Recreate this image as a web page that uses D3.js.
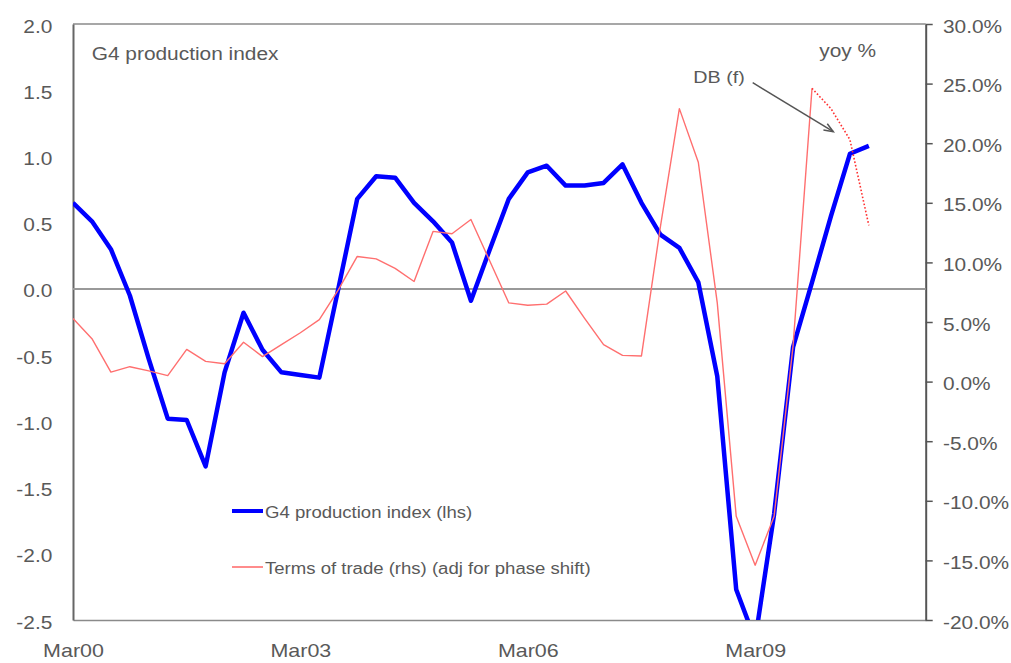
<!DOCTYPE html>
<html>
<head>
<meta charset="utf-8">
<script src="https://cdn.jsdelivr.net/npm/d3@7"></script>
<style>
  html, body { margin: 0; padding: 0; background: #fff; }
  svg { display: block; }
  text { font-family: "Liberation Sans", Arial, sans-serif; fill: #595959; }
</style>
</head>
<body>
<svg id="chart" width="1011" height="663"></svg>
<script>
// Quarterly categories on the x axis (last three quarters are empty space)
const quarters = [
  "Mar00","Jun00","Sep00","Dec00","Mar01","Jun01","Sep01","Dec01",
  "Mar02","Jun02","Sep02","Dec02","Mar03","Jun03","Sep03","Dec03",
  "Mar04","Jun04","Sep04","Dec04","Mar05","Jun05","Sep05","Dec05",
  "Mar06","Jun06","Sep06","Dec06","Mar07","Jun07","Sep07","Dec07",
  "Mar08","Jun08","Sep08","Dec08","Mar09","Jun09","Sep09","Dec09",
  "Mar10","Jun10","Sep10","Dec10","Mar11","Jun11"
];
const xTickLabels = ["Mar00", "Mar03", "Mar06", "Mar09"];

// G4 production index (lhs)
const productionIndex = [
  0.65, 0.51, 0.30, -0.05, -0.53, -0.98, -0.99, -1.34,
  -0.63, -0.18, -0.46, -0.63, -0.65, -0.67, 0.00, 0.68,
  0.85, 0.84, 0.65, 0.51, 0.35, -0.09, 0.30, 0.68,
  0.88, 0.93, 0.78, 0.78, 0.80, 0.94, 0.65, 0.41,
  0.31, 0.05, -0.66, -2.27, -2.65, -1.70, -0.44, 0.05,
  0.55, 1.02, 1.08
];

// Terms of trade, yoy % (rhs), adjusted for phase shift; DB forecast from Dec09
const termsOfTrade = [
  5.3, 3.6, 0.8, 1.25, 0.9, 0.5, 2.7, 1.7,
  1.5, 3.3, 2.1, 3.1, 4.1, 5.2, 7.7, 10.5,
  10.3, 9.5, 8.4, 12.6, 12.4, 13.6, 10.1, 6.6,
  6.4, 6.5, 7.6, 5.3, 3.1, 2.2, 2.15, 13.0,
  22.9, 18.4, 6.6, -11.3, -15.4, -11.3, 3.0, 24.6,
  22.9, 20.3, 13.1
];
const forecastFrom = "Dec09";

const leftTicks = [2.0, 1.5, 1.0, 0.5, 0.0, -0.5, -1.0, -1.5, -2.0, -2.5];
const rightTicks = [30, 25, 20, 15, 10, 5, 0, -5, -10, -15, -20];

const STRETCH = 1.16;  // wide glyph rendering of the original font
const plot = { left: 73, right: 925.7, top: 24, bottom: 620 };

const svg = d3.select("#chart");

const x = d3.scalePoint().domain(quarters).range([plot.left, plot.right]);
const yL = d3.scaleLinear().domain([-2.5, 2.0]).range([plot.bottom, plot.top]);
const yR = d3.scaleLinear().domain([-20, 30]).range([plot.bottom, plot.top]);

function widen(sel, s) {
  sel.each(function () {
    const t = d3.select(this);
    const x0 = +t.attr("x") || 0;
    t.attr("x", x0 / s).attr("transform", `scale(${s},1)`);
  });
}

function label(txt, px, py, size, anchor) {
  const g = svg.append("g").attr("transform", `translate(${px},${py})`);
  g.append("text")
    .attr("text-anchor", anchor || "start")
    .attr("font-size", size)
    .attr("transform", `scale(${STRETCH},1)`)
    .text(txt);
  return g;
}

// Frame: top and bottom lines
svg.append("line")
  .attr("x1", plot.left).attr("x2", plot.right)
  .attr("y1", plot.top).attr("y2", plot.top)
  .attr("stroke", "#8a8a8a").attr("stroke-width", 1.5);

// Bottom axis
const gx = svg.append("g")
  .attr("transform", `translate(0,${plot.bottom})`)
  .call(d3.axisBottom(x).tickValues(xTickLabels).tickSize(0).tickSizeOuter(0).tickPadding(24));
gx.select(".domain").attr("stroke", "#8a8a8a").attr("stroke-width", 1.5);
gx.selectAll("text").attr("font-size", 18.5).attr("font-family", null).attr("fill", null);
widen(gx.selectAll("text"), STRETCH);

// Left axis
const gl = svg.append("g")
  .attr("transform", `translate(${plot.left},0)`)
  .call(d3.axisLeft(yL).tickValues(leftTicks).tickSize(0).tickSizeOuter(0).tickPadding(20.7)
    .tickFormat(d => d.toFixed(1)));
gl.select(".domain").attr("stroke", "#666").attr("stroke-width", 2);
gl.selectAll("text").attr("font-size", 18).attr("dy", "0.45em").attr("font-family", null).attr("fill", null);
widen(gl.selectAll("text"), STRETCH);

// Right axis
const gr = svg.append("g")
  .attr("transform", `translate(${plot.right},0)`)
  .call(d3.axisRight(yR).tickValues(rightTicks).tickSize(7).tickSizeOuter(0).tickPadding(10.3)
    .tickFormat(d => d.toFixed(1) + "%"));
gr.select(".domain").attr("stroke", "#555").attr("stroke-width", 2);
gr.selectAll(".tick line").attr("stroke", "#555").attr("stroke-width", 1.5);
gr.selectAll("text").attr("font-size", 18).attr("dy", "0.45em").attr("font-family", null).attr("fill", null);
widen(gr.selectAll("text"), STRETCH);

// Zero line on the left scale
svg.append("line")
  .attr("x1", plot.left).attr("x2", plot.right)
  .attr("y1", yL(0)).attr("y2", yL(0))
  .attr("stroke", "#999").attr("stroke-width", 2);

// Clip to the plotting area
svg.append("clipPath").attr("id", "plotclip")
  .append("rect")
  .attr("x", plot.left).attr("y", plot.top)
  .attr("width", plot.right - plot.left).attr("height", plot.bottom - plot.top);

const lines = svg.append("g").attr("clip-path", "url(#plotclip)");

const prodLine = d3.line()
  .x((d, i) => x(quarters[i]))
  .y(d => yL(d));

lines.append("path")
  .datum(productionIndex)
  .attr("d", prodLine)
  .attr("fill", "none")
  .attr("stroke", "#0000ff")
  .attr("stroke-width", 4.5)
  .attr("stroke-linejoin", "round");

const totPoints = termsOfTrade.map((v, i) => ({ q: quarters[i], v, i }));
const fIdx = quarters.indexOf(forecastFrom);
const totLine = d3.line().x(d => x(d.q)).y(d => yR(d.v));

lines.append("path")
  .datum(totPoints.filter(d => d.i <= fIdx))
  .attr("d", totLine)
  .attr("fill", "none")
  .attr("stroke", "#ff6f6f")
  .attr("stroke-width", 1.4)
  .attr("stroke-linejoin", "round");

lines.append("path")
  .datum(totPoints.filter(d => d.i >= fIdx))
  .attr("d", totLine)
  .attr("fill", "none")
  .attr("stroke", "#ff3030")
  .attr("stroke-width", 1.6)
  .attr("stroke-dasharray", "1.6,2");

// Annotations
label("G4 production index", 91.7, 60, 18);
label("yoy %", 819.3, 57, 18);
label("DB (f)", 693.3, 82.5, 17);

// Arrow pointing at the forecast segment
const a0 = [752.7, 82.7], a1 = [833.3, 131.7];
svg.append("line")
  .attr("x1", a0[0]).attr("y1", a0[1]).attr("x2", a1[0]).attr("y2", a1[1])
  .attr("stroke", "#555").attr("stroke-width", 1.5);
const ang = Math.atan2(a1[1] - a0[1], a1[0] - a0[0]);
const headLen = 10, spread = 0.38;
const hp = [ang - spread, ang + spread].map(a => [a1[0] - headLen * Math.cos(a), a1[1] - headLen * Math.sin(a)]);
svg.append("path")
  .attr("d", `M${hp[0][0]},${hp[0][1]}L${a1[0]},${a1[1]}L${hp[1][0]},${hp[1][1]}`)
  .attr("fill", "none").attr("stroke", "#555").attr("stroke-width", 1.5);

// Legend
const legend = [
  { name: "G4 production index (lhs)", color: "#0000ff", width: 4, y: 511 },
  { name: "Terms of trade (rhs) (adj for phase shift)", color: "#ff8c8c", width: 2, y: 567 }
];
legend.forEach(d => {
  svg.append("line")
    .attr("x1", 232).attr("x2", 263).attr("y1", d.y).attr("y2", d.y)
    .attr("stroke", d.color).attr("stroke-width", d.width);
  label(d.name, 265, d.y + 6.5, 16);
});
</script>
</body>
</html>
